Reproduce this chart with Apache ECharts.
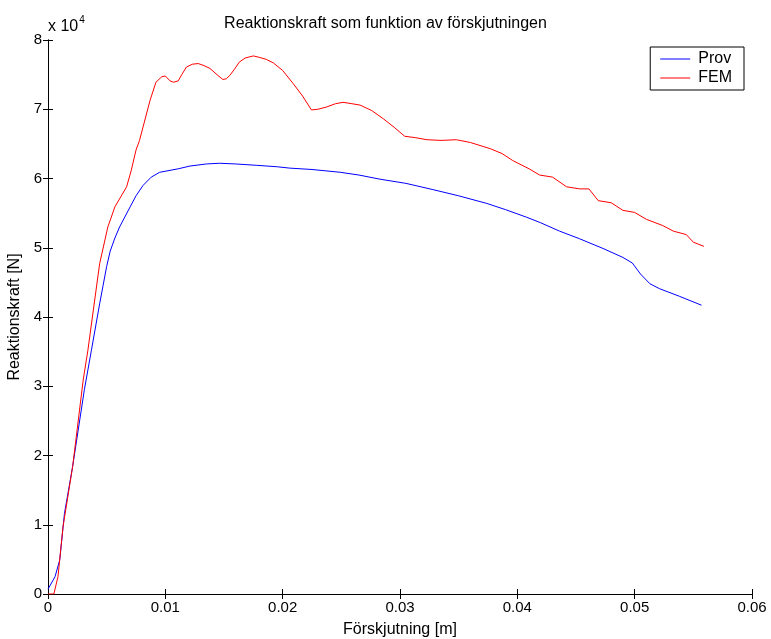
<!DOCTYPE html>
<html>
<head>
<meta charset="utf-8">
<script src="https://cdn.jsdelivr.net/npm/echarts@6/dist/echarts.min.js"></script>
<style>
  html, body { margin: 0; padding: 0; background: #fff; }
  #chart { width: 771px; height: 639px; }
</style>
</head>
<body>
<div id="chart"></div>
<script>
// Measured test (Prov): displacement [m] and reaction force [N]
const provX = [0, 0.0006, 0.0010, 0.0014, 0.0021, 0.0031, 0.0037, 0.0044, 0.0047, 0.0050, 0.0053, 0.0057,
  0.0061, 0.0070, 0.0075, 0.0081, 0.0088, 0.00952, 0.0111, 0.0121, 0.0135, 0.0146, 0.0160, 0.0178,
  0.0195, 0.0206, 0.0225, 0.0249, 0.0265, 0.0283, 0.0305, 0.0328, 0.0350, 0.0374, 0.0390, 0.0408,
  0.0420, 0.0436, 0.0453, 0.0473, 0.0490, 0.0498, 0.0505, 0.0513, 0.0521, 0.0538, 0.0557];
const provY = [700, 2500, 4900, 11600, 18400, 29500, 35200, 41900, 44600, 47300, 49500, 51400,
  53000, 55900, 57500, 59000, 60200, 60900, 61400, 61800, 62100, 62200, 62100, 61900,
  61700, 61500, 61300, 60900, 60500, 59900, 59300, 58400, 57500, 56400, 55500, 54400,
  53600, 52400, 51300, 49900, 48600, 47800, 46200, 44800, 44100, 43000, 41700];

// FE model (FEM): displacement [m] and reaction force [N]
const femX = [0, 0.0005, 0.00085, 0.00128, 0.0021, 0.0030, 0.0034, 0.0044, 0.0051, 0.0057, 0.0067, 0.0071,
  0.0075, 0.0078, 0.0087, 0.0092, 0.0097, 0.0100, 0.0104, 0.0107, 0.0111, 0.0114, 0.0118, 0.0123,
  0.0128, 0.0133, 0.0138, 0.0144, 0.0149, 0.0152, 0.0155, 0.0159, 0.0163, 0.0168, 0.0175, 0.0180,
  0.0186, 0.0192, 0.0200, 0.0209, 0.0217, 0.02245, 0.0230, 0.0237, 0.0245, 0.02515, 0.0259, 0.0266,
  0.0276, 0.0286, 0.0295, 0.0304, 0.0313, 0.0323, 0.0335, 0.0348, 0.0360, 0.0377, 0.0387, 0.0396,
  0.0410, 0.0419, 0.0430, 0.0442, 0.0453, 0.0461, 0.0469, 0.0480, 0.0490, 0.0500, 0.0510, 0.0524,
  0.0533, 0.0544, 0.0550, 0.0559];
const femY = [0, 0, 2500, 9700, 18400, 30900, 35200, 47700, 53000, 55900, 58800, 61200,
  64100, 65500, 71300, 73900, 74700, 74800, 74100, 73900, 74100, 75000, 76100, 76500,
  76600, 76300, 75900, 75000, 74300, 74400, 74900, 75800, 76800, 77400, 77700, 77500,
  77200, 76700, 75600, 73700, 71900, 69900, 70000, 70300, 70800, 71000, 70800, 70600,
  69800, 68600, 67400, 66100, 65900, 65600, 65500, 65600, 65200, 64300, 63600, 62600,
  61400, 60500, 60200, 58800, 58500, 58500, 56800, 56500, 55400, 55100, 54100, 53200,
  52400, 51900, 50800, 50200];

const xTicks = [0, 0.01, 0.02, 0.03, 0.04, 0.05, 0.06];
const yScale = 10000;

const FONT = '"Liberation Sans", Arial, sans-serif';
const pairs = (xs, ys) => xs.map((x, i) => [x, ys[i]]);

const chart = echarts.init(document.getElementById('chart'), null, { renderer: 'canvas' });

const boxAxisLine = { show: true, lineStyle: { color: '#000', width: 1 } };
const inTick = { show: true, inside: true, length: 5, lineStyle: { color: '#000' } };

chart.setOption({
  backgroundColor: '#fff',
  animation: false,
  title: {
    text: 'Reaktionskraft som funktion av förskjutningen',
    left: 'center',
    top: 11,
    textStyle: { fontFamily: FONT, fontSize: 16, fontWeight: 'normal', color: '#000' }
  },
  legend: {
    right: 27,
    top: 47,
    orient: 'vertical',
    backgroundColor: '#fff',
    borderColor: '#000',
    borderWidth: 1,
    borderRadius: 0,
    padding: [4, 12, 4, 10],
    itemGap: 3,
    itemWidth: 30,
    itemHeight: 1,
    icon: 'rect',
    textStyle: { fontFamily: FONT, fontSize: 16, color: '#000', padding: [0, 0, 0, 3] },
    data: ['Prov', 'FEM']
  },
  grid: { left: 48, right: 19, top: 40, bottom: 45, containLabel: false, outerBoundsMode: 'none' },
  xAxis: [{
    type: 'value',
    min: 0, max: 0.06, interval: 0.01,
    name: 'Förskjutning [m]',
    nameLocation: 'middle',
    nameGap: 28,
    nameTextStyle: { fontFamily: FONT, fontSize: 16, color: '#000' },
    axisLine: boxAxisLine,
    axisTick: inTick,
    splitLine: { show: false },
    axisLabel: {
      fontFamily: FONT, fontSize: 15, color: '#000', margin: 6,
      formatter: v => {
        const t = xTicks.find(k => Math.abs(k - v) < 1e-9);
        return t === 0 ? '0' : String(+t.toFixed(2));
      }
    }
  }, {
    type: 'value', position: 'top',
    min: 0, max: 0.06, interval: 0.01,
    axisLine: boxAxisLine, axisTick: inTick, axisLabel: { show: false }, splitLine: { show: false }
  }],
  yAxis: [{
    type: 'value',
    min: 0, max: 80000, interval: 10000,
    name: 'Reaktionskraft [N]',
    nameLocation: 'middle',
    nameGap: 20,
    nameRotate: 90,
    nameTextStyle: { fontFamily: FONT, fontSize: 16, color: '#000' },
    axisLine: boxAxisLine,
    axisTick: inTick,
    splitLine: { show: false },
    axisLabel: { fontFamily: FONT, fontSize: 15, color: '#000', margin: 6, formatter: v => String(v / yScale) }
  }, {
    type: 'value', position: 'right',
    min: 0, max: 80000, interval: 10000,
    axisLine: boxAxisLine, axisTick: inTick, axisLabel: { show: false }, splitLine: { show: false }
  }],
  graphic: [{
    type: 'text',
    left: 48,
    top: 15,
    style: {
      text: '{b|x 10}{s|4}',
      rich: {
        b: { fontFamily: FONT, fontSize: 16, fill: '#000', verticalAlign: 'bottom' },
        s: { fontFamily: FONT, fontSize: 10, fill: '#000', padding: [0, 0, 10, 1] }
      }
    }
  }],
  series: [{
    name: 'Prov',
    type: 'line',
    data: pairs(provX, provY),
    showSymbol: false,
    smooth: false,
    color: '#0000ff',
    lineStyle: { color: '#0000ff', width: 1 }
  }, {
    name: 'FEM',
    type: 'line',
    data: pairs(femX, femY),
    showSymbol: false,
    smooth: false,
    color: '#ff0000',
    lineStyle: { color: '#ff0000', width: 1 }
  }]
});
</script>
</body>
</html>
